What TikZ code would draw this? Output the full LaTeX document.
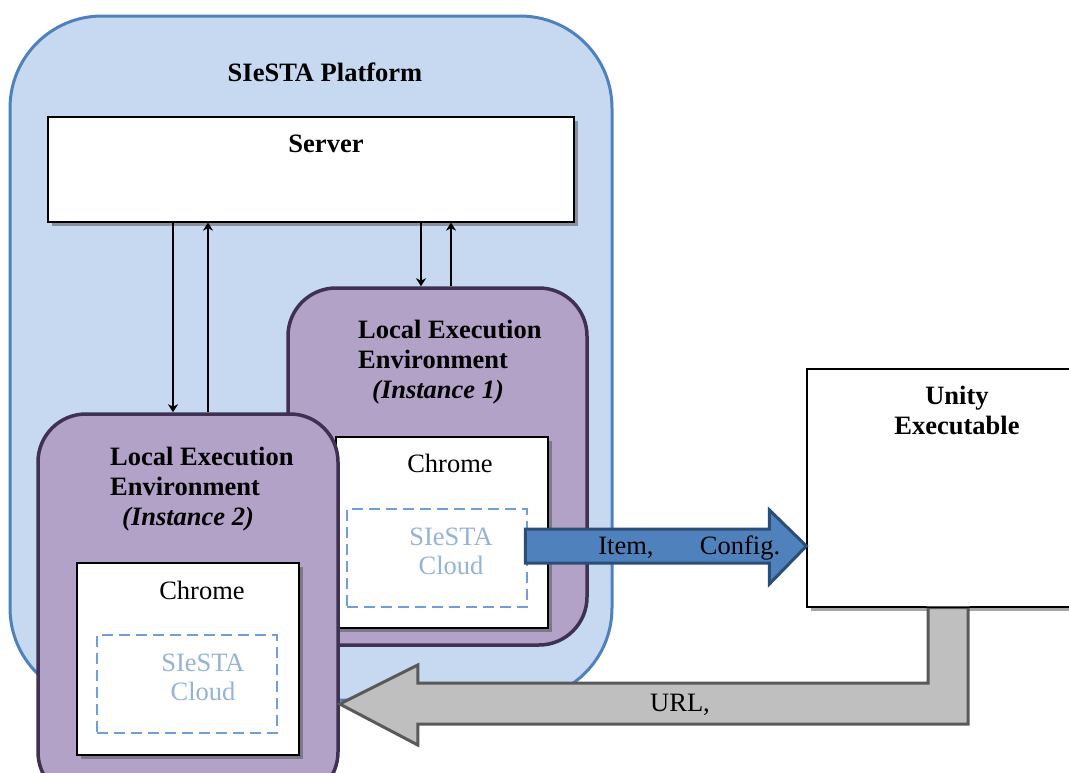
\documentclass[tikz,border=0pt]{standalone}
\usepackage{fontspec}
\setmainfont{Liberation Serif}
\usetikzlibrary{shadows,calc,arrows.meta}
\definecolor{skyfill}{HTML}{C6D9F1}
\definecolor{skyedge}{HTML}{4F81BD}
\definecolor{plumfill}{HTML}{B2A2C7}
\definecolor{plumedge}{HTML}{3F3151}
\definecolor{cloudedge}{HTML}{6F9FD8}
\definecolor{cloudtext}{HTML}{95B3D7}
\definecolor{pushfill}{HTML}{4F81BD}
\definecolor{pushedge}{HTML}{2C4D75}
\definecolor{urlfill}{HTML}{BFBFBF}
\definecolor{urledge}{HTML}{595959}

\begin{document}
\begin{tikzpicture}[x=1pt,y=-1pt,
    every node/.style={font=\fontsize{26.5}{30}\selectfont,inner sep=0pt},
    platform/.style={draw=skyedge,fill=skyfill,line width=3pt,rounded corners=92pt},
    leebox/.style={draw=plumedge,fill=plumfill,line width=3.5pt,rounded corners=48pt},
    whitebox/.style={draw=black,fill=white,line width=1.2pt,
      drop shadow={shadow xshift=4pt,shadow yshift=-4pt,fill=black!70,opacity=0.5}},
    cloudbox/.style={draw=cloudedge,line width=1.4pt,dash pattern=on 11pt off 6pt},
    boldtext/.style={font=\fontsize{26.5}{30}\selectfont\bfseries},
    cloudlabel/.style={text=cloudtext,align=center,font=\fontsize{26.5}{29}\selectfont},
    link/.style={-{Stealth[length=8pt,width=10pt,inset=2.5pt]},line width=1.4pt}]
  \clip (0,0) rectangle (1069,772);

  % platform and server
  \node[platform,minimum width=602pt,minimum height=684pt] (platform) at (311,358) {};
  \node[boldtext] (platformtitle) at (325,72) {SIeSTA Platform};
  \node[whitebox,minimum width=526pt,minimum height=105pt] (server) at (311,169.5) {};
  \node[boldtext] (servertitle) at (326,144) {Server};

  % instance 1
  \node[leebox,minimum width=299pt,minimum height=357pt] (lee1) at (437.5,466.5) {};
  \node[boldtext,align=left,anchor=west] (lee1title) at (358,362)
    {Local Execution\\Environment\\\hspace*{14pt}\textit{(Instance 1)}};
  \node[whitebox,minimum width=212pt,minimum height=191pt] (chrome1) at (442,532.5) {};
  \node (chrome1title) at (450,463) {Chrome};
  \node[cloudbox,minimum width=180pt,minimum height=98pt] (cloud1) at (437,558) {};
  \node[cloudlabel] (cloud1title) at (451,551) {SIeSTA\\Cloud};

  % instance 2
  \node[leebox,minimum width=300pt,minimum height=386pt] (lee2) at (188,607) {};
  \node[boldtext,align=left,anchor=west] (lee2title) at (110,489)
    {Local Execution\\Environment\\\hspace*{12pt}\textit{(Instance 2)}};
  \node[whitebox,minimum width=222pt,minimum height=192pt] (chrome2) at (188,659) {};
  \node (chrome2title) at (202,590) {Chrome};
  \node[cloudbox,minimum width=180pt,minimum height=98pt] (cloud2) at (187,684) {};
  \node[cloudlabel] (cloud2title) at (203,677) {SIeSTA\\Cloud};

  % server links
  \draw[link] (server.south -| 173,0) -- (lee2.north -| 173,0);
  \draw[link] (lee2.north -| 208,0) -- (server.south -| 208,0);
  \draw[link] (server.south -| 421,0) -- (lee1.north -| 421,0);
  \draw[link] (lee1.north -| 451,0) -- (server.south -| 451,0);

  % unity
  \node[whitebox,minimum width=300pt,minimum height=238pt] (unity) at (957,488) {};
  \node[boldtext,align=center] (unitytitle) at (957,410) {Unity\\Executable};

  % item / config arrow
  \coordinate (cfgtip) at (unity.west |- 0,546);
  \draw[fill=pushfill,draw=pushedge,line width=3pt,line join=miter]
    ($(cfgtip)+(-281,-17)$) -- ($(cfgtip)+(-37,-17)$) -- ($(cfgtip)+(-37,-36)$)
    -- (cfgtip) -- ($(cfgtip)+(-37,38)$) -- ($(cfgtip)+(-37,17)$)
    -- ($(cfgtip)+(-281,17)$) -- cycle;
  \node (itemlabel) at (626,548) {Item,};
  \node (configlabel) at (740,548) {Config.};

  % url arrow
  \coordinate (urltip) at (lee2.east |- 0,704);
  \draw[fill=urlfill,draw=urledge,line width=3pt,line join=miter]
    (unity.south -| 928,0) -- (928,683) -- ($(urltip)+(78,-21)$) -- ($(urltip)+(78,-39)$)
    -- (urltip) -- ($(urltip)+(78,41)$) -- ($(urltip)+(78,20)$)
    -- (968,724) -- (unity.south -| 968,0) -- cycle;
  \node (urllabel) at (680,705) {URL,};
  \draw[line width=1.2pt] (unity.south west) -- (unity.south east);
\end{tikzpicture}
\end{document}
